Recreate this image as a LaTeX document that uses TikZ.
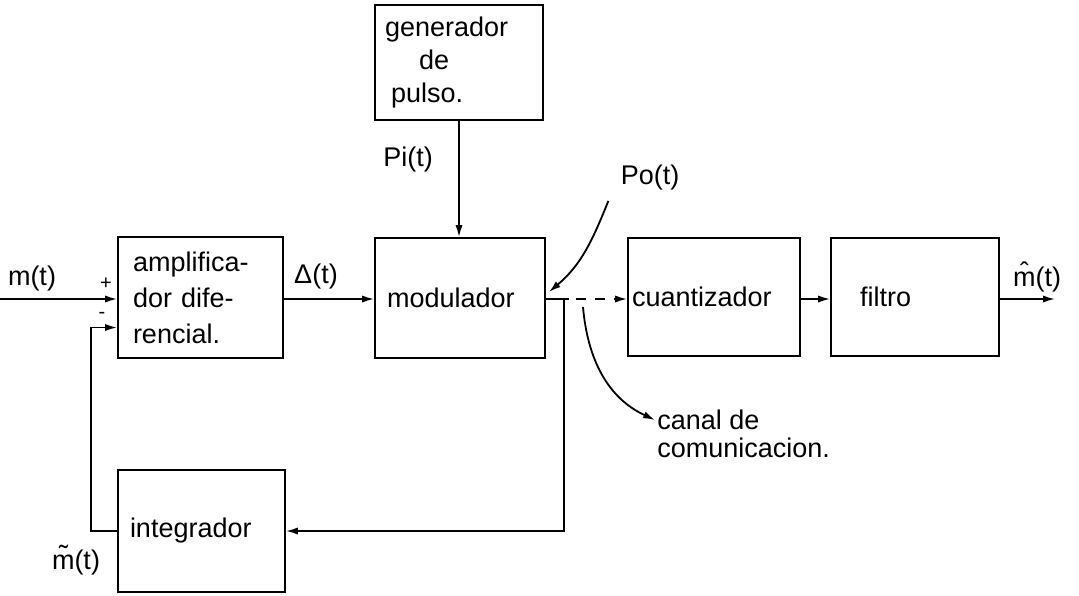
\documentclass[tikz,border=0pt]{standalone}
\usepackage{fontspec}
\setmainfont{Liberation Sans}
\usepackage{tikz}
\usetikzlibrary{positioning,arrows.meta,calc}
\tikzset{
  block/.style   ={draw, line width=0.9pt, minimum height=60pt, align=left,
                   font=\fontsize{13.5}{18}\selectfont},
  sig/.style     ={font=\fontsize{13.5}{15}\selectfont, inner sep=1pt},
  sgn/.style     ={font=\fontsize{10}{10}\selectfont, inner sep=1pt},
  flowarr/.style ={-{Latex[length=6pt,width=3.6pt]}, line width=0.9pt},
  plainline/.style={line width=0.9pt},
}
\begin{document}
\begin{tikzpicture}[x=0.5pt, y=-0.5pt]
\useasboundingbox (0,0) rectangle (1079,595);
% blocks
\node[block, inner xsep=7.5pt, text width=67.5pt, minimum height=60.5pt] (amp) at (200.5,297.5) {amplifica-\\dor dife-\\rencial.};
\node[block, inner xsep=6pt, text width=73pt] (modul) at (460,298) {modulador};
\node[block, inner xsep=5pt, text width=74pt, minimum height=57.5pt, font=\fontsize{13.5}{16.5}\selectfont] (gen) at (459,62.5) {generador\\\hspace*{17pt}de\\\hspace*{3pt}pulso.};
\node[block, inner xsep=2pt, text width=82pt, minimum height=59pt] (cuant) at (714,297) {cuantizador};
\node[block, inner xsep=14.5pt, text width=55pt, minimum height=59pt] (filtro) at (915,297) {filtro};
\node[block, inner xsep=6pt, text width=71.5pt, minimum height=61pt] (integ) at (201.5,531) {integrador};
% signal labels
\node[sig] (mlab) at (32,279) {m(t)};
\node[sgn] (plus) at (106,284) {+};
\node[sgn] (minus) at (102,315) {-};
\node[sig] (dlab) at (316,277) {Δ(t)};
\node[sig] (pilab) at (408,160) {Pi(t)};
\node[sig] (polab) at (650,178) {Po(t)};
\node[sig] (mhat) at (1037,277) {\^{m}(t)};
\node[sig] (mtil) at (76,560) {\~{m}(t)};
\node[sig, align=left, anchor=west, font=\fontsize{13.5}{14}\selectfont] (canal) at (655,434) {canal de\\comunicacion.};
% connectors
\coordinate (in) at (0,299);
\coordinate (split) at (564,299);
\coordinate (out) at (1055,299);
\draw[flowarr] (in) -- (in -| amp.west);
\draw[flowarr] (in -| amp.east) -- (in -| modul.west);
\draw[flowarr] (gen.south) -- (gen.south |- modul.north);
\draw[plainline] (in -| modul.east) -- ++(23,0) coordinate (solidend);
\draw[flowarr, dash pattern=on 5pt off 4.5pt] ($(solidend)+(7,0)$) -- (in -| cuant.west);
\draw[flowarr] (split) |- (integ.east);
\draw[flowarr] (integ.west) -- ++(-26,0) |- ([yshift=-15pt]amp.west);
\draw[flowarr] (in -| cuant.east) -- (in -| filtro.west);
\draw[flowarr] (in -| filtro.east) -- (out);
\draw[flowarr] ([xshift=-5pt,yshift=-4pt]polab.south west) to[out=-112,in=40] ([xshift=1.5pt,yshift=3pt]modul.east);
\draw[flowarr] ($(split)+(19,8)$) to[out=-85,in=155] ([yshift=7pt]canal.west);
\end{tikzpicture}
\end{document}
